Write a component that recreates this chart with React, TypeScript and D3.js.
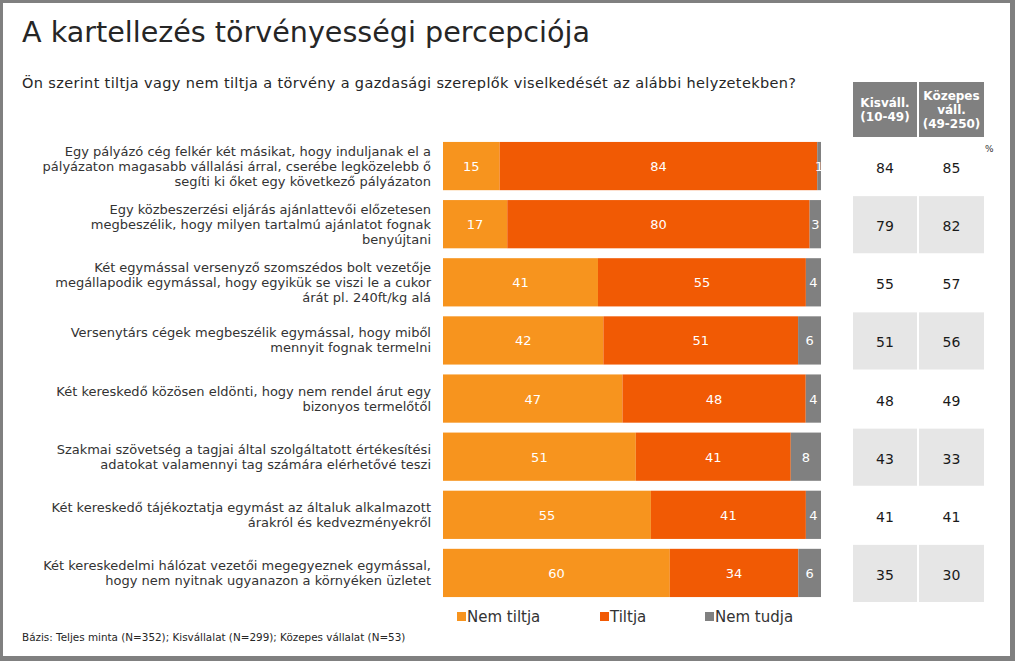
import React from "react";
import * as d3 from "d3";

const categories: string[][] = [
  ["Egy pályázó cég felkér két másikat, hogy induljanak el a", "pályázaton magasabb vállalási árral, cserébe legközelebb ő", "segíti ki őket egy következő pályázaton"],
  ["Egy közbeszerzési eljárás ajánlattevői előzetesen", "megbeszélik, hogy milyen tartalmú ajánlatot fognak", "benyújtani"],
  ["Két egymással versenyző szomszédos bolt vezetője", "megállapodik egymással, hogy egyikük se viszi le a cukor", "árát pl. 240ft/kg alá"],
  ["Versenytárs cégek megbeszélik egymással, hogy miből", "mennyit fognak termelni"],
  ["Két kereskedő közösen eldönti, hogy nem rendel árut egy", "bizonyos termelőtől"],
  ["Szakmai szövetség a tagjai által szolgáltatott értékesítési", "adatokat valamennyi tag számára elérhetővé teszi"],
  ["Két kereskedő tájékoztatja egymást az általuk alkalmazott", "árakról és kedvezményekről"],
  ["Két kereskedelmi hálózat vezetői megegyeznek egymással,", "hogy nem nyitnak ugyanazon a környéken üzletet"],
];
const nemTiltja = [15, 17, 41, 42, 47, 51, 55, 60];
const tiltja = [84, 80, 55, 51, 48, 41, 41, 34];
const nemTudja = [1, 3, 4, 6, 4, 8, 4, 6];
const kisvall = [84, 79, 55, 51, 48, 43, 41, 35];
const kozepes = [85, 82, 57, 56, 49, 33, 41, 30];
const seriesNames = ["Nem tiltja", "Tiltja", "Nem tudja"];
const seriesColors = ["#f7941e", "#f15a04", "#808080"];

const FONT = "'DejaVu Sans', Verdana, sans-serif";

export default function App() {
  const W = 1015, H = 661;
  const idx = categories.map((_, i) => i);
  const y = d3.scaleBand<number>().domain(idx).range([137, 602]).paddingInner(0.17).paddingOuter(0.085);
  const band = d3.scaleBand<number>().domain(idx).range([137, 602]);
  const x = d3.scaleLinear().domain([0, 1]).range([443, 821]);
  const rows = idx.map((i) => ({ i, a: nemTiltja[i], b: tiltja[i], c: nemTudja[i] }));
  const stack = d3.stack<any>().keys(["a", "b", "c"]).offset(d3.stackOffsetExpand);
  const stacked = stack(rows);
  const cols = [
    { x0: 853, x1: 917, vals: kisvall, head: ["Kisváll.", "(10-49)"] },
    { x0: 919, x1: 984, vals: kozepes, head: ["Közepes", "váll.", "(49-250)"] },
  ];
  const legendX = [457, 600, 705];
  return (
    <svg width={W} height={H} style={{ position: "absolute", left: 0, top: 0, background: "#fff" }} fontFamily={FONT}>
      <rect x={0} y={0} width={W} height={H} fill="#fff" />
      {/* frame */}
      <rect x={0} y={0} width={W} height={3} fill="#808080" />
      <rect x={0} y={0} width={3} height={H} fill="#808080" />
      <rect x={1010} y={0} width={5} height={H} fill="#808080" />
      <rect x={0} y={656} width={W} height={5} fill="#808080" />

      <text x={22} y={42} fontSize={28.6} fill="#262626">A kartellezés törvényességi percepciója</text>
      <text x={22} y={88} fontSize={14.5} letterSpacing={0.35} fill="#262626">Ön szerint tiltja vagy nem tiltja a törvény a gazdasági szereplők viselkedését az alábbi helyzetekben?</text>

      {/* category labels */}
      {categories.map((lines, i) => {
        const cy = (band(i) as number) + band.bandwidth() / 2;
        const lh = 15;
        const top = cy - ((lines.length - 1) * lh) / 2;
        return (
          <text key={i} textAnchor="end" fontSize={13} fill="#333">
            {lines.map((l, j) => (
              <tspan key={j} x={431} y={top + j * lh + 4.5}>{l}</tspan>
            ))}
          </text>
        );
      })}

      {/* bars */}
      {stacked.map((s, si) =>
        s.map((d, i) => {
          const x0 = x(d[0]), x1 = x(d[1]);
          const yy = y(i) as number;
          const val = [nemTiltja, tiltja, nemTudja][si][i];
          return (
            <g key={`${si}-${i}`}>
              <rect x={x0} y={yy} width={x1 - x0} height={y.bandwidth()} fill={seriesColors[si]} />
              <text x={(x0 + x1) / 2} y={yy + y.bandwidth() / 2 + 5} textAnchor="middle" fontSize={13} fill="#fff">{val}</text>
            </g>
          );
        })
      )}

      {/* table */}
      {cols.map((c, ci) => (
        <g key={ci}>
          <rect x={c.x0} y={82} width={c.x1 - c.x0} height={55} fill="#808080" />
          {c.head.map((h, j) => (
            <text key={j} x={(c.x0 + c.x1) / 2} y={82 + 27.5 + (j - (c.head.length - 1) / 2) * 14 + 4.5} textAnchor="middle" fontSize={12} fontWeight="bold" fill="#fff">{h}</text>
          ))}
          {c.vals.map((v, i) => {
            const by = band(i) as number;
            return (
              <g key={i}>
                {i % 2 === 1 && <rect x={c.x0} y={by + 1} width={c.x1 - c.x0} height={band.bandwidth() - 1} fill="#e6e6e6" />}
                <text x={(c.x0 + c.x1) / 2} y={by + band.bandwidth() / 2 + 7} textAnchor="middle" fontSize={14} fill="#1a1a1a">{v}</text>
              </g>
            );
          })}
        </g>
      ))}
      <text x={985} y={152} fontSize={9} fill="#333">%</text>

      {/* legend */}
      {seriesNames.map((n, i) => (
        <g key={n}>
          <rect x={legendX[i]} y={612} width={9} height={9} fill={seriesColors[i]} />
          <text x={legendX[i] + 10} y={622} fontSize={15} fill="#333">{n}</text>
        </g>
      ))}

      <text x={22} y={641} fontSize={10.4} fill="#262626">Bázis: Teljes minta (N=352); Kisvállalat (N=299); Közepes vállalat (N=53)</text>
    </svg>
  );
}
